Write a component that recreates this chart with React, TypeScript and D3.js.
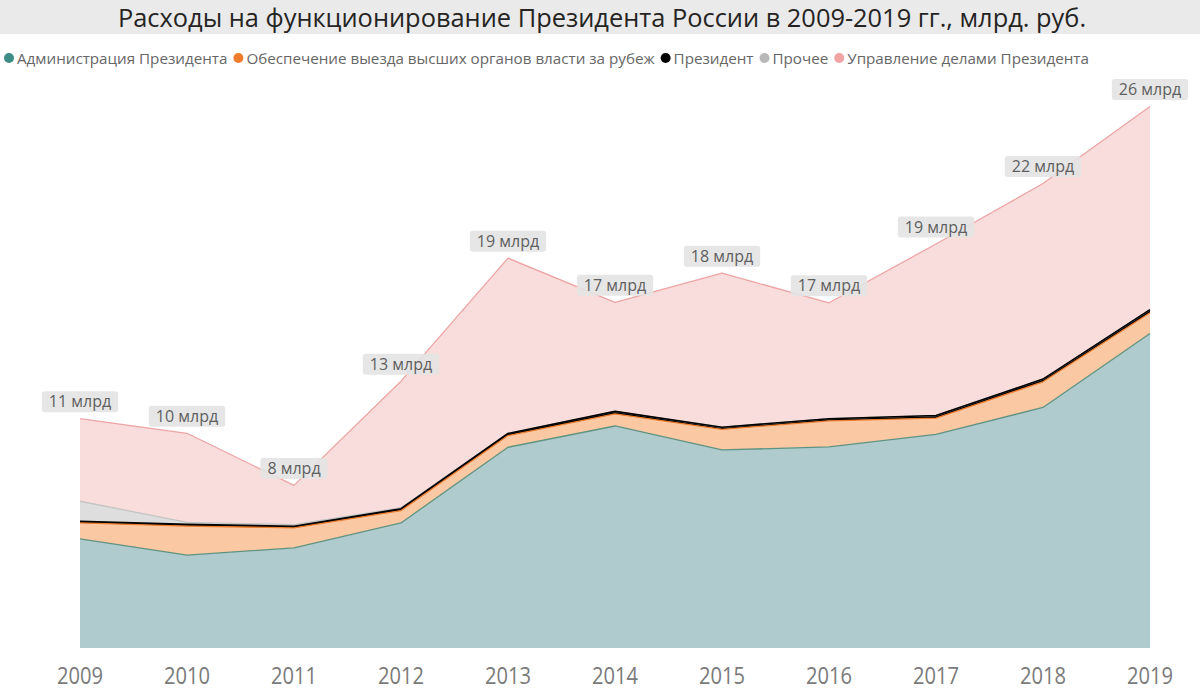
import React, { useMemo } from 'react';
import * as d3 from 'd3';

// values in bn RUB
const years = [2009, 2010, 2011, 2012, 2013, 2014, 2015, 2016, 2017, 2018, 2019];
const administration = [5.23, 4.46, 4.8, 6.0, 9.63, 10.65, 9.5, 9.65, 10.25, 11.54, 15.09];
const travel = [0.77, 1.39, 0.96, 0.59, 0.56, 0.58, 0.99, 1.25, 0.78, 1.23, 0.99];
const president = [0.08, 0.08, 0.08, 0.09, 0.1, 0.12, 0.1, 0.1, 0.12, 0.13, 0.15];
const other = [0.96, 0.1, 0.08, 0.05, 0.02, 0, 0, 0, 0, 0, 0];
const affairs = [3.96, 4.27, 1.88, 6.07, 8.39, 5.23, 7.39, 5.56, 8.23, 9.38, 9.75];

const seriesNames = [
  'Администрация Президента',
  'Обеспечение выезда высших органов власти за рубеж',
  'Президент',
  'Прочее',
  'Управление делами Президента',
];
const seriesValues = [administration, travel, president, other, affairs];

const markerColors = ['#3d8c86', '#f07b2a', '#000000', '#b8b8b8', '#f0a3a3'];
const fillColors = ['#afcbcd', '#fac8a3', '#000000', '#dedede', '#f9dddc'];
const lineColors = ['#5f9381', '#ef7d2e', '#000000', '#c4c4c4', '#eda4a4'];

const title = 'Расходы на функционирование Президента России в 2009-2019 гг., млрд. руб.';

const width = 1200;
const height = 690;
const uiFont = '"Open Sans", "Noto Sans", sans-serif';

let ctx: CanvasRenderingContext2D | null = null;
const measure = (text: string, font: string) => {
  if (!ctx) ctx = document.createElement('canvas').getContext('2d');
  ctx!.font = font;
  return ctx!.measureText(text).width;
};

const App: React.FC = () => {
  const rows = years.map((year, i) => {
    const row: { [key: string]: number } = { year };
    seriesNames.forEach((name, s) => (row[name] = seriesValues[s][i]));
    return row;
  });

  const stacked = d3.stack<{ [key: string]: number }>().keys(seriesNames)(rows);

  const x = d3.scaleLinear().domain([2009, 2019]).range([80, 1150]);
  const y = d3.scaleLinear().domain([0, 26]).range([648, 106]);

  const area = d3
    .area<d3.SeriesPoint<{ [key: string]: number }>>()
    .x((d) => x(d.data.year))
    .y0((d) => y(d[0]))
    .y1((d) => y(d[1]));

  const line = d3
    .line<d3.SeriesPoint<{ [key: string]: number }>>()
    .x((d) => x(d.data.year))
    .y((d) => y(d[1]));

  const totals = years.map((_, i) => d3.sum(seriesValues, (s) => s[i]));

  const legendSize = 15.2;
  const legendFont = `${legendSize}px ${uiFont}`;
  const legend = useMemo(() => {
    let cx = 9;
    return seriesNames.map((name, i) => {
      const item = { name, cx, color: markerColors[i] };
      cx += 8 + measure(name, legendFont) + 11;
      return item;
    });
  }, []);

  const labelFont = `16px ${uiFont}`;

  return (
    <svg
      width={width}
      height={height}
      style={{ position: 'absolute', left: 0, top: 0, background: '#fff' }}
    >
      <rect x={0} y={0} width={width} height={34} fill="#eaeaea" />
      <text
        x={width / 2 + 2}
        y={27}
        textAnchor="middle"
        fontFamily={uiFont}
        fontSize={25.4}
        fill="#252423"
      >
        {title}
      </text>

      <g>
        {legend.map((item) => (
          <g key={item.name}>
            <circle cx={item.cx} cy={58} r={5} fill={item.color} />
            <text
              x={item.cx + 8}
              y={63.5}
              fontFamily={uiFont}
              fontSize={legendSize}
              fill="#666666"
            >
              {item.name}
            </text>
          </g>
        ))}
      </g>

      <g>
        {stacked.map((layer, i) => (
          <path key={layer.key} d={area(layer) || ''} fill={fillColors[i]} />
        ))}
        {stacked
          .slice()
          .reverse()
          .map((layer) => {
            const i = seriesNames.indexOf(layer.key);
            return (
              <path
                key={layer.key + '-line'}
                d={line(layer) || ''}
                fill="none"
                stroke={lineColors[i]}
                strokeWidth={i === 2 ? 1.6 : 1.3}
                strokeLinejoin="round"
              />
            );
          })}
      </g>

      <g>
        {totals.map((t, i) => {
          const label = `${Math.round(t)} млрд`;
          const w = measure(label, labelFont) + 14;
          const cx = x(years[i]);
          const cy = y(t) - 17;
          return (
            <g key={years[i]}>
              <rect
                x={cx - w / 2}
                y={cy - 10.5}
                width={w}
                height={21}
                rx={3}
                fill="#e3e3e3"
                fillOpacity={0.9}
              />
              <text
                x={cx}
                y={cy + 5.5}
                textAnchor="middle"
                fontFamily={uiFont}
                fontSize={16}
                fill="#5f5f5f"
              >
                {label}
              </text>
            </g>
          );
        })}
      </g>

      <g>
        {years.map((yr) => (
          <text
            key={yr}
            x={x(yr)}
            y={684}
            textAnchor="middle"
            fontFamily={uiFont}
            fontSize={23}
            textLength={46}
            lengthAdjust="spacingAndGlyphs"
            fill="#7a7a7a"
          >
            {yr}
          </text>
        ))}
      </g>
    </svg>
  );
};

export default App;
